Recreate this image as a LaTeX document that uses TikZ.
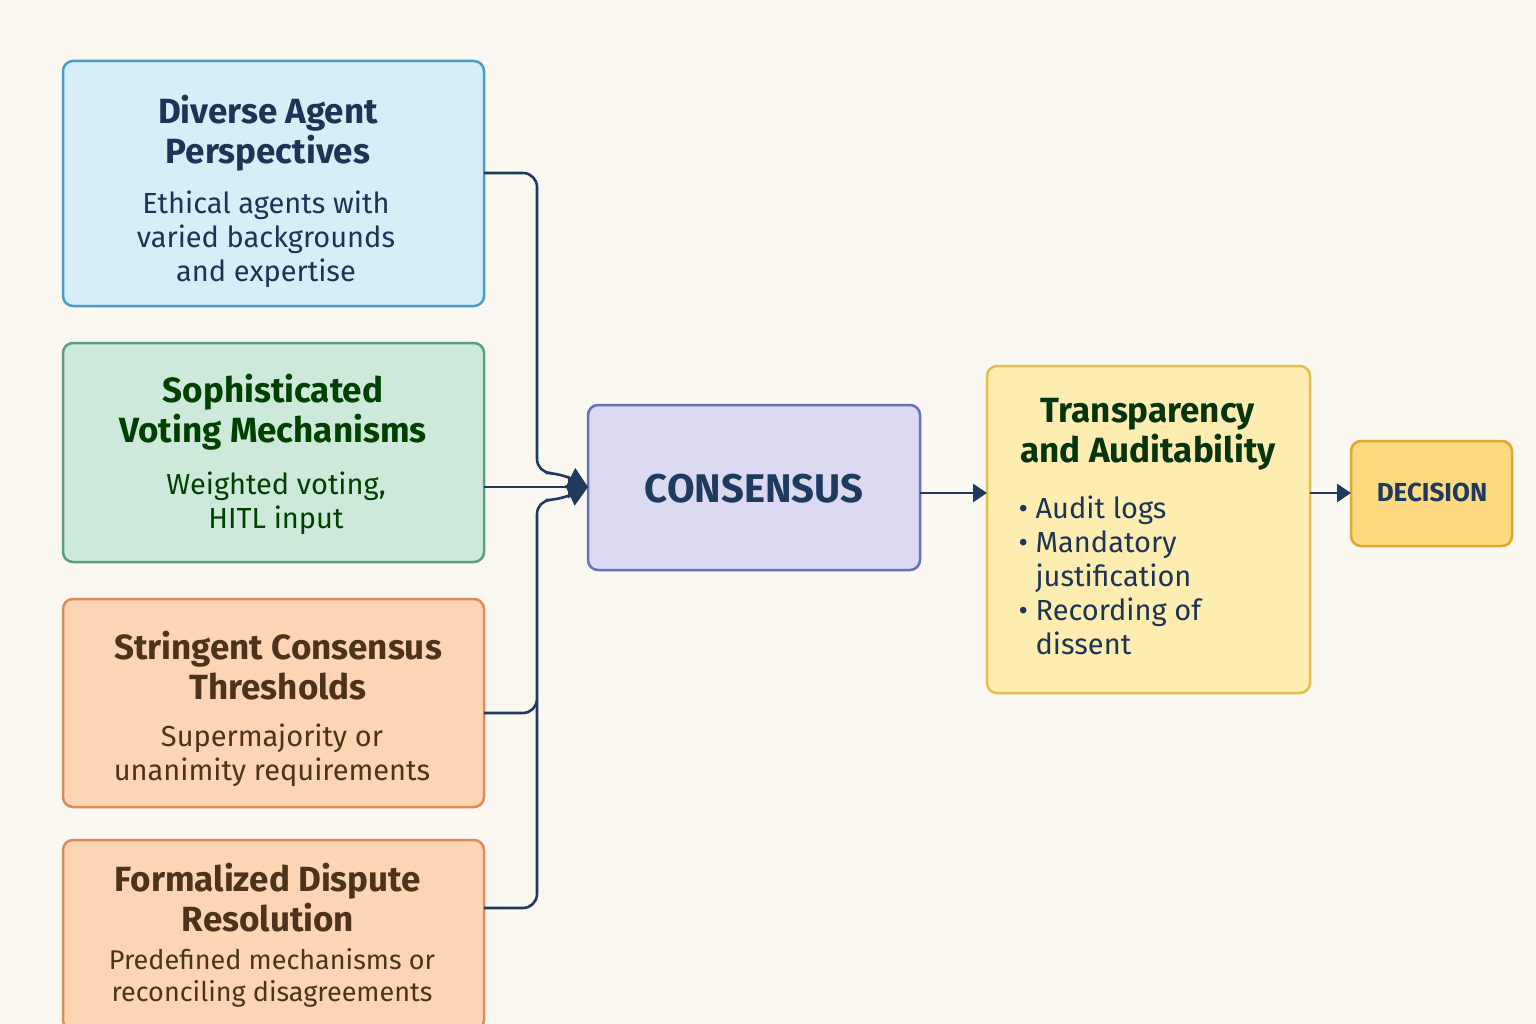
\documentclass[tikz,border=0pt]{standalone}
\usepackage{fontspec}
\setmainfont{Fira Sans}
\usetikzlibrary{arrows.meta}
\definecolor{bg}{HTML}{FBF7F1}
\definecolor{navy}{HTML}{1F3A5F}
\definecolor{bluef}{HTML}{D6EEF8}\definecolor{blued}{HTML}{4A9CCB}
\definecolor{greenf}{HTML}{CDE9DA}\definecolor{greend}{HTML}{5A9E83}
\definecolor{orf}{HTML}{FDD5B5}\definecolor{ord}{HTML}{E08A55}
\definecolor{purf}{HTML}{DCDAF2}\definecolor{purd}{HTML}{6470C0}
\definecolor{yelf}{HTML}{FEEDB0}\definecolor{yeld}{HTML}{E0C050}
\definecolor{decf}{HTML}{FDD97F}\definecolor{decd}{HTML}{E0A830}
\tikzset{box/.style={draw, line width=2.5pt, rounded corners=10pt},
  conn/.style={navy, line width=2.6pt, rounded corners=14pt},
  arr/.style={conn, -{Triangle[length=20pt,width=22pt]}},
  sarr/.style={conn, -{Triangle[length=14pt,width=18pt]}},
  hd/.style={font=\fontsize{35}{40}\selectfont\bfseries, align=center},
  bd/.style={font=\fontsize{29}{34}\selectfont, align=center}}
\begin{document}
\begin{tikzpicture}[x=1pt,y=-1pt]
\useasboundingbox (0,0) rectangle (1536,1024);
\fill[bg] (0,0) rectangle (1536,1024);
\draw[box, blued, fill=bluef] (63,61) rectangle (484,306);
\draw[box, greend, fill=greenf] (63,343) rectangle (484,562);
\draw[box, ord, fill=orf] (63,599) rectangle (484,807);
\draw[box, ord, fill=orf] (63,840) rectangle (484,1030);
\draw[box, purd, fill=purf] (588,405) rectangle (920,570);
\draw[box, yeld, fill=yelf] (987,366) rectangle (1310,693);
\draw[box, decd, fill=decf] (1351,441) rectangle (1512,546);
\coordinate (b1) at (484,173); \coordinate (b2) at (484,487);
\coordinate (b3) at (484,713); \coordinate (b4) at (484,908);
\coordinate (c) at (588,487); \coordinate (co) at (920,493);
\coordinate (ti) at (987,493); \coordinate (to) at (1310,493);
\coordinate (di) at (1351,493);
\node[hd, text=navy!90!black] (h1) at (268,133) {Diverse Agent\\Perspectives};
\node[bd, text=navy!90!black] (t1) at (266,239) {Ethical agents with\\varied backgrounds\\and expertise};
\node[hd, text=green!25!black] (h2) at (273,412) {Sophisticated\\Voting Mechanisms};
\node[bd, text=green!25!black] (t2) at (276,503) {Weighted voting,\\HITL input};
\node[hd, text=brown!40!black] (h3) at (278,666) {Stringent Consensus\\Thresholds};
\node[bd, text=brown!40!black] (t3) at (272,755) {Supermajority or\\unanimity requirements};
\node[hd, text=brown!40!black] (h4) at (268,898) {Formalized Dispute\\Resolution};
\node[bd, text=brown!40!black, font=\fontsize{27}{32}\selectfont] (t4) at (272,978) {Predefined mechanisms or\\reconciling disagreements};
\node[font=\fontsize{40}{44}\selectfont\bfseries, text=navy] (cn) at (754,489) {CONSENSUS};
\node[hd, text=green!20!black!85!navy] (h5) at (1148,434) {Transparency\\and Auditability};
\node[bd, text=navy!90!black, align=left, anchor=north west] (t5) at (1015,492) {\textbullet\ Audit logs\\\textbullet\ Mandatory\\\phantom{\textbullet\ }justification\\\textbullet\ Recording of\\\phantom{\textbullet\ }dissent};
\node[font=\fontsize{26}{30}\selectfont\bfseries, text=navy] (dn) at (1432,492) {DECISION};
\draw[arr] (b1) -- (537,173) -- (537,473) -- (560,473) -- (c);
\draw[arr] (b2) -- (c);
\draw[arr] (b3) -- (537,713) -- (537,500) -- (560,500) -- (c);
\draw[conn] (b4) -- (537,908) -- (537,700);
\draw[sarr] (co) -- (ti);
\draw[sarr] (to) -- (di);
\end{tikzpicture}
\end{document}
